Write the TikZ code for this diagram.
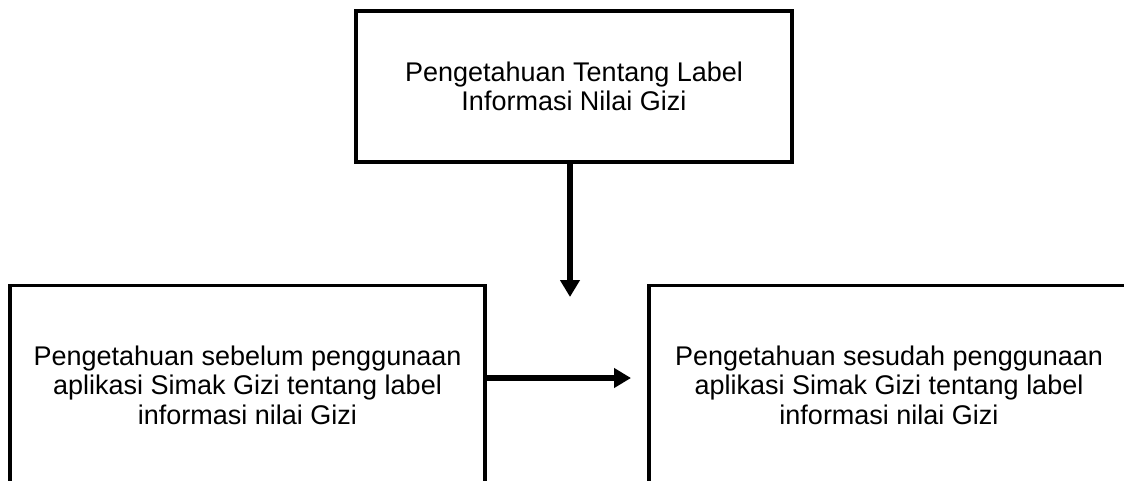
\documentclass[tikz,border=0pt]{standalone}
\usepackage{fontspec}
\setmainfont{Liberation Sans}
\usetikzlibrary{arrows.meta}
\begin{document}
\begin{tikzpicture}[x=1pt,y=-1pt,
  boxnode/.style={draw=black, line width=3.6pt, align=center, inner sep=0pt,
    font=\fontsize{27}{29.5}\selectfont},
  conn/.style={line width=5.5pt, -{Triangle[length=17pt,width=19pt]}}]
\useasboundingbox (0,0) rectangle (1124,481);
\clip (0,0) rectangle (1124,481);
\node[boxnode, minimum width=436pt, minimum height=151pt] (top) at (574,86.5)
  {Pengetahuan Tentang Label\\Informasi Nilai Gizi};
\node[boxnode, minimum width=475pt, minimum height=199pt] (left) at (247.5,385)
  {Pengetahuan sebelum penggunaan\\aplikasi Simak Gizi tentang label\\informasi nilai Gizi};
\node[boxnode, minimum width=480pt, minimum height=199pt] (right) at (889,385)
  {Pengetahuan sesudah penggunaan\\aplikasi Simak Gizi tentang label\\informasi nilai Gizi};
\coordinate (vt) at (570,297);
\coordinate (ht) at (631,378);
\draw[conn] (top.south -| vt) -- (vt);
\draw[conn] (left.east |- ht) -- (ht);
\end{tikzpicture}
\end{document}
